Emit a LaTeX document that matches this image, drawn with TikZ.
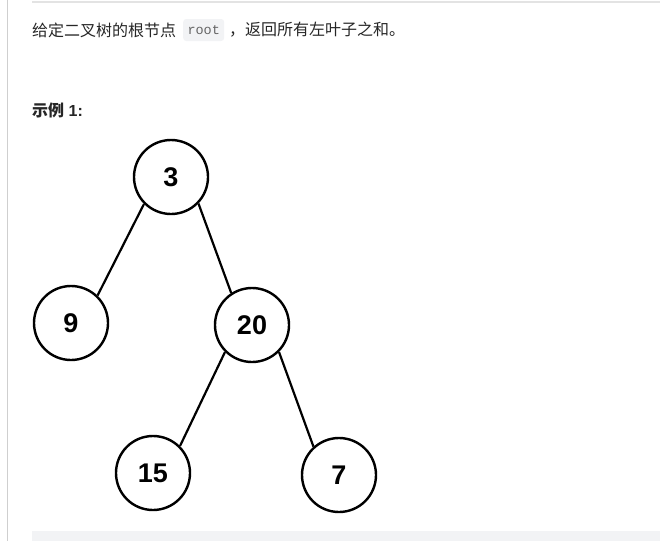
\documentclass[tikz,border=0pt]{standalone}
\usepackage{fontspec}
\setmainfont{Liberation Sans}
\newfontfamily\cjk{Noto Sans CJK SC}
\newfontfamily\monof{Liberation Mono}
\definecolor{rulegray}{HTML}{E3E3E3}
\definecolor{codebg}{HTML}{F2F3F5}
\definecolor{txt}{HTML}{262626}
\begin{document}
\begin{tikzpicture}[x=1pt,y=-1pt,
  tnode/.style={circle,draw=black,line width=2.4pt,minimum size=74pt,inner sep=0pt,
    font=\fontsize{27}{30}\selectfont\bfseries},
  tedge/.style={line width=2.2pt,black}]
\useasboundingbox (0,0) rectangle (660,541);
% frame lines
\draw[rulegray,line width=2pt] (32,2) -- (660,2);
\draw[rulegray!80!gray,line width=1pt] (7,0) -- (7,541);
\fill[codebg] (32,531) rectangle (660,541);
% text
\node[anchor=west,inner sep=0pt,text=txt,font=\cjk\fontsize{16}{19}\selectfont] (t1a) at (32,30) {给定二叉树的根节点};
\node[anchor=west,fill=codebg,rounded corners=3pt,inner sep=0pt,minimum height=22pt,minimum width=41pt,text=black!60,font=\monof\fontsize{13.5}{15}\selectfont] (root) at (183,30) {root};
\node[anchor=west,inner sep=0pt,text=txt,font=\cjk\fontsize{16}{19}\selectfont] (t1b) at (229,30) {，返回所有左叶子之和。};
\node[anchor=west,inner sep=0pt,text=txt,font=\fontsize{16}{19}\selectfont\bfseries] (ex) at (32,110) {{\cjk 示例} 1:};
% tree
\node[tnode] (n3) at (171,177) {3};
\node[tnode] (n9) at (71,323) {9};
\node[tnode] (n20) at (252,325) {20};
\node[tnode] (n15) at (153,473) {15};
\node[tnode] (n7) at (339,475) {7};
\draw[tedge] (n3.225) -- (n9.46);
\draw[tedge] (n3.-44) -- (n20.123);
\draw[tedge] (n20.225) -- (n15.45);
\draw[tedge] (n20.-45) -- (n7.132);
\end{tikzpicture}
\end{document}
